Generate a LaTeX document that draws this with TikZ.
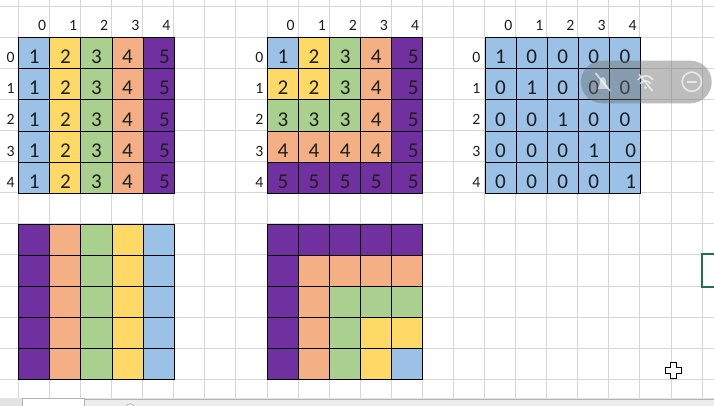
\documentclass[tikz,border=0pt]{standalone}
\usepackage{fontspec}
\setmainfont{Carlito}
\usepackage{tikz}
\usetikzlibrary{shapes,arrows}
\definecolor{cblue}{HTML}{9BC2E6}
\definecolor{cyellow}{HTML}{FFD966}
\definecolor{cgreen}{HTML}{A9D08E}
\definecolor{corange}{HTML}{F4B084}
\definecolor{cpurple}{HTML}{7030A0}
\definecolor{numtext}{HTML}{1E1E1E}
\definecolor{gridgray}{HTML}{D6D6D6}
\definecolor{selgreen}{HTML}{217346}
\definecolor{bargray}{HTML}{E3E3E3}
\definecolor{barlight}{HTML}{EDEDED}
\tikzset{
  cellbox/.style={draw=black, line width=0.9pt, minimum size=1cm, inner sep=0pt,
    text height=0.68cm, text depth=0pt, text=numtext, font=\fontsize{19.3}{20}\selectfont},
  headtext/.style={inner sep=0pt, text=numtext, font=\fontsize{14.4}{15}\selectfont},
  gridline/.style={draw=gridgray, line width=0.8pt},
  pill/.style={rectangle, rounded corners=0.685cm, minimum width=4.21cm, minimum height=1.37cm,
    fill={rgb,255:red,110;green,110;blue,110}, fill opacity=0.45},
  iconline/.style={draw=white, draw opacity=0.65, line width=1.5pt, line cap=round},
  selbox/.style={draw=selgreen, line width=1.8pt},
  barline/.style={draw=gray!60, line width=0.7pt},
}
\newcommand{\mcell}[4] {\node at (#1) (#2) [cellbox, anchor=north west, fill=#3] {#4};}
\newcommand{\mlabel}[3] {\node at (#1) (#2) [headtext, anchor=base east] {#3};}
\newcommand{\pushr}[1] {\hspace*{0.38cm}#1}

\begin{document}
\begin{tikzpicture}[x=1cm, y=-1cm]
\useasboundingbox (-0.589,-0.2) rectangle (22.384,12.863);
\clip (-0.589,-0.2) rectangle (22.384,12.863);
\fill[white] (-0.589,-0.2) rectangle (22.384,12.863);
\draw[gridline] (-1,14) grid (23,-1);

\mlabel{0.9,0.79}{Ah0}{0}; \mlabel{1.9,0.79}{Ah1}{1}; \mlabel{2.9,0.79}{Ah2}{2}; \mlabel{3.9,0.79}{Ah3}{3}; \mlabel{4.9,0.79}{Ah4}{4};
\mlabel{-0.11,1.82}{Av0}{0}; \mlabel{-0.11,2.82}{Av1}{1}; \mlabel{-0.11,3.82}{Av2}{2}; \mlabel{-0.11,4.82}{Av3}{3}; \mlabel{-0.11,5.82}{Av4}{4};

\mcell{0,1}{A00}{cblue}{1}; \mcell{1,1}{A01}{cyellow}{2}; \mcell{2,1}{A02}{cgreen}{3}; \mcell{3,1}{A03}{corange}{4}; \mcell{4,1}{A04}{cpurple}{\pushr{5}};
\mcell{0,2}{A10}{cblue}{1}; \mcell{1,2}{A11}{cyellow}{2}; \mcell{2,2}{A12}{cgreen}{3}; \mcell{3,2}{A13}{corange}{4}; \mcell{4,2}{A14}{cpurple}{\pushr{5}};
\mcell{0,3}{A20}{cblue}{1}; \mcell{1,3}{A21}{cyellow}{2}; \mcell{2,3}{A22}{cgreen}{3}; \mcell{3,3}{A23}{corange}{4}; \mcell{4,3}{A24}{cpurple}{\pushr{5}};
\mcell{0,4}{A30}{cblue}{1}; \mcell{1,4}{A31}{cyellow}{2}; \mcell{2,4}{A32}{cgreen}{3}; \mcell{3,4}{A33}{corange}{4}; \mcell{4,4}{A34}{cpurple}{\pushr{5}};
\mcell{0,5}{A40}{cblue}{1}; \mcell{1,5}{A41}{cyellow}{2}; \mcell{2,5}{A42}{cgreen}{3}; \mcell{3,5}{A43}{corange}{4}; \mcell{4,5}{A44}{cpurple}{\pushr{5}};

\mlabel{8.9,0.79}{Bh0}{0}; \mlabel{9.9,0.79}{Bh1}{1}; \mlabel{10.9,0.79}{Bh2}{2}; \mlabel{11.9,0.79}{Bh3}{3}; \mlabel{12.9,0.79}{Bh4}{4};
\mlabel{7.89,1.82}{Bv0}{0}; \mlabel{7.89,2.82}{Bv1}{1}; \mlabel{7.89,3.82}{Bv2}{2}; \mlabel{7.89,4.82}{Bv3}{3}; \mlabel{7.89,5.82}{Bv4}{4};

\mcell{8,1}{B00}{cblue}{1}; \mcell{9,1}{B01}{cyellow}{2}; \mcell{10,1}{B02}{cgreen}{3}; \mcell{11,1}{B03}{corange}{4}; \mcell{12,1}{B04}{cpurple}{\pushr{5}};
\mcell{8,2}{B10}{cyellow}{2}; \mcell{9,2}{B11}{cyellow}{2}; \mcell{10,2}{B12}{cgreen}{3}; \mcell{11,2}{B13}{corange}{4}; \mcell{12,2}{B14}{cpurple}{\pushr{5}};
\mcell{8,3}{B20}{cgreen}{3}; \mcell{9,3}{B21}{cgreen}{3}; \mcell{10,3}{B22}{cgreen}{3}; \mcell{11,3}{B23}{corange}{4}; \mcell{12,3}{B24}{cpurple}{\pushr{5}};
\mcell{8,4}{B30}{corange}{4}; \mcell{9,4}{B31}{corange}{4}; \mcell{10,4}{B32}{corange}{4}; \mcell{11,4}{B33}{corange}{4}; \mcell{12,4}{B34}{cpurple}{\pushr{5}};
\mcell{8,5}{B40}{cpurple}{5}; \mcell{9,5}{B41}{cpurple}{5}; \mcell{10,5}{B42}{cpurple}{5}; \mcell{11,5}{B43}{cpurple}{5}; \mcell{12,5}{B44}{cpurple}{\pushr{5}};

\mlabel{15.9,0.79}{Ch0}{0}; \mlabel{16.9,0.79}{Ch1}{1}; \mlabel{17.9,0.79}{Ch2}{2}; \mlabel{18.9,0.79}{Ch3}{3}; \mlabel{19.9,0.79}{Ch4}{4};
\mlabel{14.87,1.82}{Cv0}{0}; \mlabel{14.87,2.82}{Cv1}{1}; \mlabel{14.87,3.82}{Cv2}{2}; \mlabel{14.87,4.82}{Cv3}{3}; \mlabel{14.87,5.82}{Cv4}{4};

\mcell{15,1}{C00}{cblue}{1}; \mcell{16,1}{C01}{cblue}{0}; \mcell{17,1}{C02}{cblue}{0}; \mcell{18,1}{C03}{cblue}{0}; \mcell{19,1}{C04}{cblue}{0};
\mcell{15,2}{C10}{cblue}{0}; \mcell{16,2}{C11}{cblue}{1}; \mcell{17,2}{C12}{cblue}{0}; \mcell{18,2}{C13}{cblue}{0}; \mcell{19,2}{C14}{cblue}{0};
\mcell{15,3}{C20}{cblue}{0}; \mcell{16,3}{C21}{cblue}{0}; \mcell{17,3}{C22}{cblue}{1}; \mcell{18,3}{C23}{cblue}{0}; \mcell{19,3}{C24}{cblue}{0};
\mcell{15,4}{C30}{cblue}{0}; \mcell{16,4}{C31}{cblue}{0}; \mcell{17,4}{C32}{cblue}{0}; \mcell{18,4}{C33}{cblue}{1}; \mcell{19,4}{C34}{cblue}{\pushr{0}};
\mcell{15,5}{C40}{cblue}{0}; \mcell{16,5}{C41}{cblue}{0}; \mcell{17,5}{C42}{cblue}{0}; \mcell{18,5}{C43}{cblue}{0}; \mcell{19,5}{C44}{cblue}{\pushr{1}};

\mcell{0,7}{D00}{cpurple}{}; \mcell{1,7}{D01}{corange}{}; \mcell{2,7}{D02}{cgreen}{}; \mcell{3,7}{D03}{cyellow}{}; \mcell{4,7}{D04}{cblue}{};
\mcell{0,8}{D10}{cpurple}{}; \mcell{1,8}{D11}{corange}{}; \mcell{2,8}{D12}{cgreen}{}; \mcell{3,8}{D13}{cyellow}{}; \mcell{4,8}{D14}{cblue}{};
\mcell{0,9}{D20}{cpurple}{}; \mcell{1,9}{D21}{corange}{}; \mcell{2,9}{D22}{cgreen}{}; \mcell{3,9}{D23}{cyellow}{}; \mcell{4,9}{D24}{cblue}{};
\mcell{0,10}{D30}{cpurple}{}; \mcell{1,10}{D31}{corange}{}; \mcell{2,10}{D32}{cgreen}{}; \mcell{3,10}{D33}{cyellow}{}; \mcell{4,10}{D34}{cblue}{};
\mcell{0,11}{D40}{cpurple}{}; \mcell{1,11}{D41}{corange}{}; \mcell{2,11}{D42}{cgreen}{}; \mcell{3,11}{D43}{cyellow}{}; \mcell{4,11}{D44}{cblue}{};

\mcell{8,7}{E00}{cpurple}{}; \mcell{9,7}{E01}{cpurple}{}; \mcell{10,7}{E02}{cpurple}{}; \mcell{11,7}{E03}{cpurple}{}; \mcell{12,7}{E04}{cpurple}{};
\mcell{8,8}{E10}{cpurple}{}; \mcell{9,8}{E11}{corange}{}; \mcell{10,8}{E12}{corange}{}; \mcell{11,8}{E13}{corange}{}; \mcell{12,8}{E14}{corange}{};
\mcell{8,9}{E20}{cpurple}{}; \mcell{9,9}{E21}{corange}{}; \mcell{10,9}{E22}{cgreen}{}; \mcell{11,9}{E23}{cgreen}{}; \mcell{12,9}{E24}{cgreen}{};
\mcell{8,10}{E30}{cpurple}{}; \mcell{9,10}{E31}{corange}{}; \mcell{10,10}{E32}{cgreen}{}; \mcell{11,10}{E33}{cyellow}{}; \mcell{12,10}{E34}{cyellow}{};
\mcell{8,11}{E40}{cpurple}{}; \mcell{9,11}{E41}{corange}{}; \mcell{10,11}{E42}{cgreen}{}; \mcell{11,11}{E43}{cyellow}{}; \mcell{12,11}{E44}{cblue}{};

% player bar
\node at (20.205,2.4385) (mediabar) [pill] {};
\fill[white, fill opacity=0.6] (18.64,2.66) -- (18.98,2.66) -- (18.91,2.50) .. controls (18.91,2.20) and (18.71,2.20) .. (18.71,2.50) -- cycle;
\draw[iconline] (18.58,2.16) -- (19.04,2.72);
\draw[iconline] (19.94,2.36) .. controls (20.06,2.20) and (20.30,2.20) .. (20.42,2.36);
\draw[iconline] (20.02,2.48) .. controls (20.10,2.38) and (20.26,2.38) .. (20.34,2.48);
\fill[white, fill opacity=0.65] (20.18,2.62) circle (0.05);
\draw[iconline] (19.98,2.20) -- (20.40,2.72);
\draw[iconline] (21.67,2.43) circle (0.31);
\draw[iconline] (21.53,2.43) -- (21.81,2.43);

\draw[selbox] (22,7.97) rectangle (23.5,9.03);

\draw[fill=white, draw=black, line width=0.8pt] (21.07,11.71) ++(-0.09,-0.25) -- ++(0.18,0) -- ++(0,0.16) -- ++(0.16,0) -- ++(0,0.18) -- ++(-0.16,0) -- ++(0,0.16) -- ++(-0.18,0) -- ++(0,-0.16) -- ++(-0.16,0) -- ++(0,-0.18) -- ++(0.16,0) -- cycle;

\fill[bargray] (-1,12.61) rectangle (23,13.2);
\draw[barline, fill=white] (0.12,12.61) rectangle (2.14,13.2);
\draw[barline, fill=barlight] (2.14,12.64) rectangle (23.2,13.2);
\draw[barline, fill=white] (3.6,12.93) circle (0.14);

\end{tikzpicture}
\end{document}
